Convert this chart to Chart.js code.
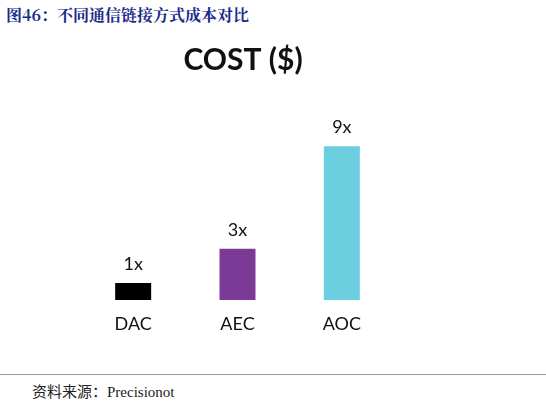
<!DOCTYPE html>
<html><head><meta charset="utf-8">
<script src="https://cdn.jsdelivr.net/npm/chart.js@4"></script>
<style>
body{margin:0;width:546px;height:405px;background:#fff;position:relative;overflow:hidden}
#t{position:absolute;left:6px;top:3px;font:bold 16px "Noto Serif CJK SC","Noto Sans CJK SC",serif;color:#1a2a8a}
#c{position:absolute;left:0;top:0}
#f{position:absolute;left:0;right:0;top:374px;border-top:1px solid #999}
#s{position:absolute;left:32px;top:380px;font:15px "Liberation Serif","Noto Sans CJK SC",serif;color:#222}
</style></head><body>
<div id="t">图46：不同通信链接方式成本对比</div>
<canvas id="c" width="546" height="370"></canvas>
<div id="f"></div>
<div id="s">资料来源：Precisionot</div>
<script>
const categories = ["DAC", "AEC", "AOC"];
const costValues = [1, 3, 9];
const valueLabels = ["1x", "3x", "9x"];
const barColors = ["#000000", "#7b3a96", "#6ccfe0"];

const labelPlugin = {
  id: "labels",
  afterDatasetsDraw(chart) {
    const ctx = chart.ctx;
    const meta = chart.getDatasetMeta(0);
    ctx.save();
    ctx.fillStyle = "#111";
    ctx.textAlign = "center";
    ctx.font = "18px Lato, 'Open Sans', sans-serif";
    meta.data.forEach((bar, i) => {
      ctx.textBaseline = "bottom";
      ctx.fillText(valueLabels[i], bar.x, bar.y - 10);
      ctx.textBaseline = "middle";
      ctx.fillText(categories[i], bar.x, chart.chartArea.bottom + 24);
    });
    ctx.font = "bold 30px Lato, 'Open Sans', sans-serif";
    ctx.fillText("COST ($)", 243, 60);
    ctx.restore();
  }
};

new Chart(document.getElementById("c"), {
  type: "bar",
  data: {
    labels: categories,
    datasets: [{
      data: costValues,
      backgroundColor: barColors,
      barPercentage: 0.345,
      categoryPercentage: 1
    }]
  },
  options: {
    responsive: false,
    animation: false,
    layout: { padding: { left: 81, right: 152, top: 100, bottom: 70 } },
    plugins: { legend: { display: false }, tooltip: { enabled: false } },
    scales: {
      x: { display: false },
      y: { display: false, min: 0, max: 11.7 }
    }
  },
  plugins: [labelPlugin]
});
</script>
</body></html>
